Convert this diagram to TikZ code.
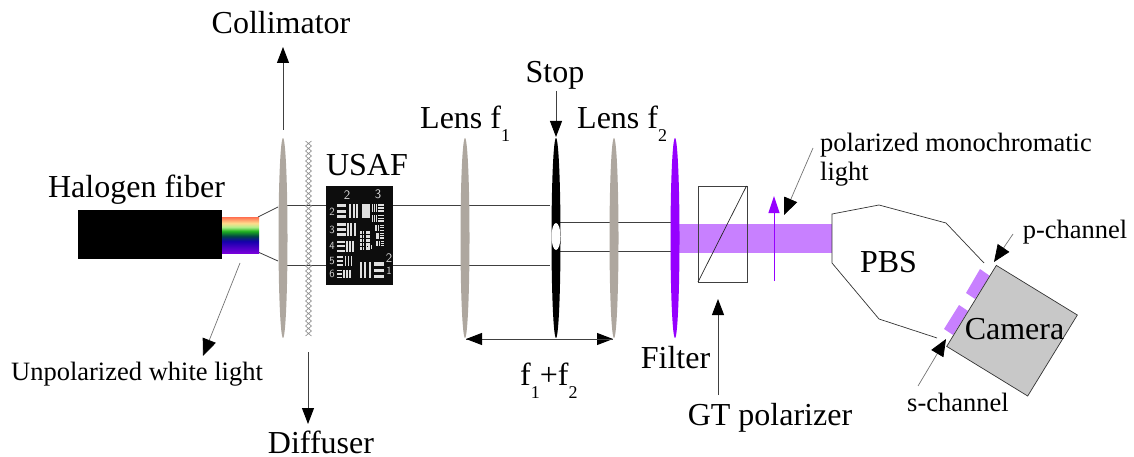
\documentclass[tikz,border=0pt]{standalone}
\usepackage{fontspec}
\setmainfont{Liberation Serif}
\usepackage{tikz}
\usetikzlibrary{arrows.meta}
\usetikzlibrary{shapes.geometric}
\pgfdeclarelayer{background}
\pgfdeclarelayer{foreground}
\pgfsetlayers{background,main,foreground}
\definecolor{lensgray}{RGB}{174,167,159}
\definecolor{filterviolet}{RGB}{150,0,255}
\definecolor{beamviolet}{RGB}{200,128,255}
\definecolor{cameragray}{RGB}{200,200,200}
\pgfdeclareverticalshading{fiberlight}{100bp}{
	rgb(0bp)=(0.47,0,0.86);
	rgb(25bp)=(0.47,0,0.86);
	rgb(41.5bp)=(0.08,0,0.67);
	rgb(48.5bp)=(0,0.27,0.27);
	rgb(55.5bp)=(0.12,0.7,0.12);
	rgb(61bp)=(0.7,0.94,0.55);
	rgb(66.5bp)=(1,0.86,0.55);
	rgb(75bp)=(1,0.43,0.31);
	rgb(100bp)=(1,0.43,0.31)}
\newcommand{\lowsub}[1]{\raisebox{-13pt}{\fontsize{18}{18}\selectfont #1}}
% bars of the test chart: x0, y0, x1, y1 in reference pixels
\newcommand{\usafh}[4]{\foreach \k in {0,1,2}{\fill[white!88!black] (#1,{#2+\k*(#4-#2)*0.4}) rectangle (#3,{#2+\k*(#4-#2)*0.4+(#4-#2)*0.2});}}
\newcommand{\usafv}[4]{\foreach \k in {0,1,2}{\fill[white!88!black] ({#1+\k*(#3-#1)*0.4},#2) rectangle ({#1+\k*(#3-#1)*0.4+(#3-#1)*0.2},#4);}}
\begin{document}
\begin{tikzpicture}[
	x=1pt,y=-1pt,
	biglabel/.style={inner sep=0pt, font=\fontsize{32}{34}\selectfont},
	smalllabel/.style={inner sep=0pt, font=\fontsize{26.5}{29}\selectfont},
	usafdigit/.style={inner sep=0pt, text=white!85!black, font=\sffamily\fontsize{11}{11}\selectfont},
	lensnode/.style={ellipse, draw=none, fill=lensgray, inner sep=0pt, minimum width=9pt, minimum height=200pt},
	raypath/.style={line width=0.9pt, draw=black!75},
	pointer/.style={line width=0.9pt, draw=black!75, -{Triangle[length=16pt,width=12pt,black]}},
	thinpointer/.style={line width=0.7pt, draw=black!55, -{Triangle[length=17pt,width=14pt,black]}},
	]
	\useasboundingbox (0,0) rectangle (1134,457);
	%Nodes
	\node[biglabel]   (collimatorlabel) at (281,23)  {Collimator};
	\node[biglabel]   (halogenlabel)    at (136.5,190) {Halogen fiber};
	\node[biglabel]   (usaflabel)       at (367,165) {USAF};
	\node[biglabel, anchor=base west] (lens1label) at (420,129) {Lens f\lowsub{1}};
	\node[biglabel, anchor=base]      (stoplabel)  at (555,83)  {Stop};
	\node[biglabel, anchor=base west] (lens2label) at (577,129) {Lens f\lowsub{2}};
	\node[biglabel, anchor=base]      (filterlabel) at (675.5,368) {Filter};
	\node[biglabel, anchor=base]      (gtlabel)    at (770,425) {GT polarizer};
	\node[biglabel, anchor=base west] (sumlabel)   at (520,385) {f\lowsub{1}+f\lowsub{2}};
	\node[biglabel]   (diffuserlabel)   at (321,442) {Diffuser};
	\node[biglabel]   (pbslabel)        at (888.5,262) {PBS};
	\node[smalllabel] (whitelabel)      at (137,374) {Unpolarized white light};
	\node[smalllabel] (pchannellabel)   at (1075,232) {p-channel};
	\node[smalllabel] (schannellabel)   at (958,402) {s-channel};
	\node[smalllabel, anchor=west, align=left] (monolabel) at (820,160) {polarized monochromatic\\light};

	\node[lensnode] (lensc) at (283,238) {};
	\node[lensnode] (lensa) at (465,238) {};
	\node[lensnode, fill=black] (stop) at (556,238) {};
	\node[ellipse, fill=white, inner sep=0pt, minimum width=9pt, minimum height=27pt] (hole) at (556,236.5) {};
	\node[lensnode] (lensb) at (614,238) {};
	\node[lensnode, fill=filterviolet] (filter) at (675,238) {};

	\node[fill=black, inner sep=0pt, minimum width=144pt, minimum height=49pt] (fiber) at (150,234.5) {};
	\node[shading=fiberlight, inner sep=0pt, minimum width=37pt, minimum height=36pt] (rainbow) at (240.5,235) {};
	\node[draw=black!75, line width=0.9pt, inner sep=0pt, minimum width=49pt, minimum height=96pt] (polarizer) at (722.5,234) {};

	%Free ends
	\coordinate (coll0) at (283,130);   \coordinate (coll1) at (283,47);
	\coordinate (diff0) at (308,352);   \coordinate (diff1) at (308,424);
	\coordinate (stop0) at (556,91);    \coordinate (stop1) at (556,137);
	\coordinate (gt0)   at (718,395);   \coordinate (gt1)   at (718,299);
	\coordinate (white0) at (240,263);  \coordinate (white1) at (203,356);
	\coordinate (mono0) at (813,148);   \coordinate (mono1) at (784,215);
	\coordinate (p0)    at (1013,234);  \coordinate (p1)    at (994,262);
	\coordinate (s0)    at (918,386);   \coordinate (s1)    at (946,339);
	\coordinate (dim0)  at (466,339);   \coordinate (dim1)  at (613,339);
	\coordinate (pol0)  at (774,281);   \coordinate (pol1)  at (774,196);
	\coordinate (up0)   at (258,217);   \coordinate (up1)   at (278,207);
	\coordinate (lo0)   at (258,252);   \coordinate (lo1)   at (278,261);
	\coordinate (rayua) at (283,205);   \coordinate (rayub) at (550,205);
	\coordinate (rayla) at (283,265);   \coordinate (raylb) at (550,265);
	\coordinate (rayuc) at (558,222.5); \coordinate (rayud) at (672,222.5);
	\coordinate (raylc) at (558,251);   \coordinate (rayld) at (672,251);
	\coordinate (cuta)  at (698,282);   \coordinate (cutb)  at (746.5,186);

	\begin{pgfonlayer}{background}
	%Beam and rays
	\fill[beamviolet] (677,224) rectangle (832,253);
	\draw[raypath] (rayua) -- (rayub);
	\draw[raypath] (rayla) -- (raylb);
	\draw[raypath] (rayuc) -- (rayud);
	\draw[raypath] (raylc) -- (rayld);
	\draw[line width=0.8pt, draw=black!75] (up0) -- (up1);
	\draw[line width=0.8pt, draw=black!75] (lo0) -- (lo1);
	\end{pgfonlayer}

	%Diffuser
	\foreach \y in {141,146,...,331}{
		\draw[black!45, line width=0.6pt] (305.5,\y) -- (311.5,\y+5) (311.5,\y) -- (305.5,\y+5);
	}

	%USAF chart
	\fill[black!95] (325.7,185.7) rectangle (393.3,285);
	\usafh{336.7}{204}{346}{218.3}  \usafv{349}{204}{358.3}{218.3}
	\usafh{336.7}{223.3}{346}{236}  \usafv{347}{223.3}{355.7}{236}
	\usafh{336.7}{240.7}{344.7}{251.7} \usafv{346}{240.7}{354}{251.7}
	\usafh{336.7}{255.7}{343.3}{265.7} \usafv{344.7}{255.7}{352}{265.7}
	\usafh{336.7}{269.7}{342}{278.3}   \usafv{343.3}{269.7}{350.7}{278.3}
	\fill[white!88!black] (361.7,204) rectangle (370,218.3);
	\usafv{372.3}{204}{376.7}{211.7}   \usafh{378.3}{204}{384}{211.7}
	\usafv{372.3}{215}{376.7}{221.7}   \usafh{378.3}{215}{384}{221.7}
	\usafv{374.7}{224.5}{378.5}{231}   \usafh{379.5}{224.5}{384}{231}
	\usafv{375.5}{233}{379}{238.5}     \usafh{380}{233}{384}{238.5}
	\usafv{376}{241}{379.5}{246}       \usafh{380.5}{241}{384}{246}
	\usafv{360}{262.3}{370.7}{278.3}   \usafh{374}{262.3}{384}{278.3}
	\foreach \yy in {231,235,...,247}{
		\usafv{359.5}{\yy}{364}{\yy+3}  \usafh{365.5}{\yy}{370}{\yy+3}
	}
	\usafv{366}{245}{372}{249}
	\node[usafdigit, font=\sffamily\fontsize{13}{13}\selectfont] (d2) at (347,195) {2};
	\node[usafdigit, font=\sffamily\fontsize{13}{13}\selectfont] (d3) at (378,194) {3};
	\node[usafdigit] (g2) at (332,212) {2};
	\node[usafdigit] (g3) at (332,230) {3};
	\node[usafdigit] (g4) at (332,246) {4};
	\node[usafdigit] (g5) at (332,261) {5};
	\node[usafdigit] (g6) at (332,274) {6};
	\node[usafdigit, font=\sffamily\fontsize{13}{13}\selectfont] (r2) at (389,258) {2};
	\node[usafdigit] (r1) at (389,271) {1};

	%PBS and camera
	\draw[line width=0.7pt, draw=black!80] (984,263) -- (946,223) -- (879,205) -- (832,214) -- (832,263) -- (879,319) -- (937,338);
	\fill[beamviolet] (980,269) -- (990,276) -- (975,299) -- (966,293) -- cycle;
	\fill[beamviolet] (959,305) -- (968,311) -- (953,335) -- (944,329) -- cycle;
	\node[draw=black!80, fill=cameragray, line width=0.7pt, inner sep=0pt, minimum width=95pt, minimum height=95pt, rotate=-31.5] (camera) at (1012,330.7) {};
	\node[biglabel] (cameralabel) at (1014.5,329) {Camera};

	%Lines
	\draw[pointer] (coll0) -- (coll1);
	\draw[pointer] (diff0) -- (diff1);
	\draw[pointer] (stop0) -- (stop1);
	\draw[pointer] (gt0) -- (gt1);
	\draw[pointer] (dim0) -- (dim1);
	\draw[pointer] (dim1) -- (dim0);
	\draw[thinpointer] (white0) -- (white1);
	\draw[thinpointer] (mono0) -- (mono1);
	\draw[thinpointer] (p0) -- (p1);
	\draw[thinpointer] (s0) -- (s1);
	\draw[line width=1pt, draw=filterviolet, -{Triangle[length=17pt,width=11pt,filterviolet]}] (pol0) -- (pol1);
	\draw[line width=0.7pt, draw=black!85] (cuta) -- (cutb);
\end{tikzpicture}
\end{document}
